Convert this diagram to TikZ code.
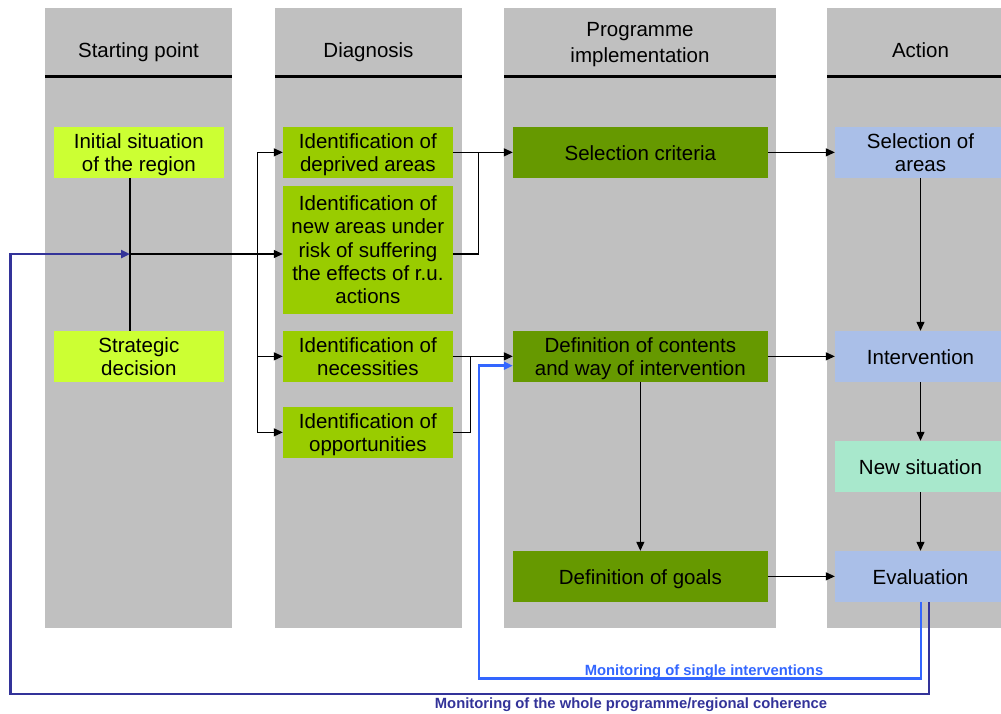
\documentclass[tikz,border=0pt]{standalone}
\usepackage{fontspec}
\setmainfont{Liberation Sans}
\usetikzlibrary{arrows.meta}
\definecolor{colgray}{HTML}{C0C0C0}
\definecolor{limeg}{HTML}{CCFF33}
\definecolor{midg}{HTML}{99CC00}
\definecolor{darkg}{HTML}{669900}
\definecolor{ltblue}{HTML}{AABFE8}
\definecolor{mint}{HTML}{A8E8CC}
\definecolor{monblue}{HTML}{3366FF}
\definecolor{navy}{HTML}{333399}
\newcommand{\mainfs}{\fontsize{20.5}{23.5}\selectfont}
\newcommand{\monfs}{\fontsize{14.8}{17}\selectfont\bfseries}
\newcommand{\nd}[1]{\raisebox{0pt}[\height][0pt]{#1}}
\tikzset{
  box/.style={rectangle, inner sep=0pt, align=center, font=\mainfs, minimum height=50.7pt,
    execute at begin node={\rule{0pt}{15.5pt}}},
  wA/.style={minimum width=169.7pt},
  wC/.style={minimum width=254.7pt},
  wD/.style={minimum width=171pt},
  hdr/.style={font=\mainfs, align=center, inner sep=0pt},
  ln/.style={line width=1.2pt},
  arr/.style={line width=1.2pt, -{Triangle[length=9pt,width=8pt]}},
  monl/.style={line width=2.8pt, -{Triangle[length=9pt,width=8pt]}},
}
\begin{document}
\begin{tikzpicture}[x=1pt,y=-1pt]
\useasboundingbox (0,0) rectangle (1001,713);
\clip (0,0) rectangle (1001,713);
% columns
\fill[colgray] (45,8) rectangle (232,627.7);
\fill[colgray] (275,8) rectangle (462,627.7);
\fill[colgray] (504,8) rectangle (776,627.7);
\fill[colgray] (827,8) rectangle (1014,627.7);
\fill[black] (45,74.8) rectangle (232,78.2);
\fill[black] (275,74.8) rectangle (462,78.2);
\fill[black] (504,74.8) rectangle (776,78.2);
\fill[black] (827,74.8) rectangle (1014,78.2);
% headers
\node[hdr, anchor=base] (h1) at (138.5,57.3) {Starting point};
\node[hdr, anchor=base] (h2) at (368.5,57.3) {Diagnosis};
\node[hdr, font=\fontsize{20.5}{26}\selectfont, execute at begin node={\rule{0pt}{17pt}}] (h3) at (640,42) {Programme\\\nd{implementation}};
\node[hdr, anchor=base] (h4) at (920.5,57.3) {Action};
% boxes
\node[box, wA, fill=limeg] (init) at (138.85,152.35) {Initial situation\\\nd{of the region}};
\node[box, wA, fill=limeg] (strat) at (138.85,356.35) {Strategic\\\nd{decision}};
\node[box, wA, fill=midg] (depr) at (367.85,152.35) {Identification of\\\nd{deprived areas}};
\node[box, wA, fill=midg, minimum height=127.7pt, font=\fontsize{20.5}{23.3}\selectfont] (risk) at (367.85,249.85) {Identification of\\new areas under\\risk of suffering\\the effects of r.u.\\\nd{actions}};
\node[box, wA, fill=midg] (nec) at (367.85,356.35) {Identification of\\\nd{necessities}};
\node[box, wA, fill=midg] (opp) at (367.85,432.35) {Identification of\\\nd{opportunities}};
\node[box, wC, fill=darkg] (selc) at (640.35,152.35) {\nd{Selection criteria}};
\node[box, wC, fill=darkg] (defc) at (640.35,356.35) {Definition of contents\\\nd{and way of intervention}};
\node[box, wC, fill=darkg] (goals) at (640.35,576.35) {\nd{Definition of goals}};
\node[box, wD, fill=ltblue] (sela) at (920.5,152.35) {Selection of\\\nd{areas}};
\node[box, wD, fill=ltblue] (interv) at (920.5,356.35) {\nd{Intervention}};
\node[box, wD, fill=mint] (newsit) at (920.5,466.35) {\nd{New situation}};
\node[box, wD, fill=ltblue] (eval) at (920.5,576.35) {\nd{Evaluation}};
% helper coordinates
\coordinate (j1) at (130,254);
\coordinate (dv) at (257.3,254);
\coordinate (m1) at (478.7,254);
\coordinate (m2) at (470.3,432.35);
\coordinate (lb) at (479,678.5);
\coordinate (db) at (10.7,694);
% connectors
\draw[ln] (init.south -| j1) -- (strat.north -| j1);
\draw[arr] (j1) -- (j1 -| risk.west);
\draw[ln] (depr.west -| dv) -- (opp.west -| dv);
\draw[arr] (depr.west -| dv) -- (depr.west);
\draw[arr] (nec.west -| dv) -- (nec.west);
\draw[arr] (opp.west -| dv) -- (opp.west);
\draw[arr] (depr.east) -- (selc.west);
\draw[ln] (j1 -| risk.east) -| (depr.east -| m1);
\draw[arr] (nec.east) -- (defc.west);
\draw[ln] (opp.east) -| (nec.east -| m2);
\draw[arr] (selc.east) -- (sela.west);
\draw[arr] (defc.east) -- (interv.west);
\draw[arr] (goals.east) -- (eval.west);
\draw[arr] (sela) -- (interv);
\draw[arr] (interv) -- (newsit);
\draw[arr] (newsit) -- (eval);
\draw[arr] (defc) -- (goals);
\draw[monl, monblue] ([xshift=0.5pt]eval.south) |- (lb) |- ([yshift=-9.35pt]defc.west);
\draw[monl, navy] ([xshift=8.5pt]eval.south) |- (db) |- (j1);
% labels
\node[font=\monfs, text=monblue, inner sep=0pt, anchor=base] (l1) at (704,675) {Monitoring of single interventions};
\node[font=\monfs, text=navy, inner sep=0pt, anchor=base] (l2) at (631,708.7) {Monitoring of the whole programme/regional coherence};
\end{tikzpicture}
\end{document}
